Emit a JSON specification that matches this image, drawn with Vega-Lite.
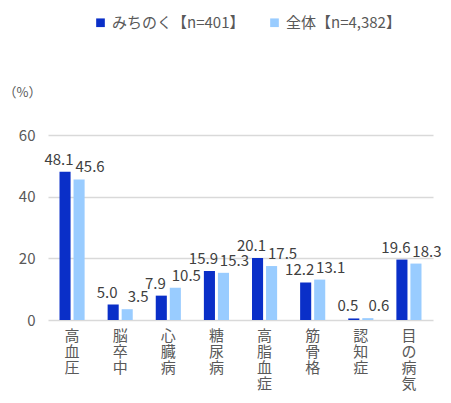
{
  "$schema": "https://vega.github.io/schema/vega-lite/v6.json",
  "autosize": {"type": "none"},
  "width": 385,
  "height": 185,
  "padding": {"left": 48, "top": 135, "right": 18, "bottom": 83},
  "background": "white",
  "config": {
    "font": "Noto Sans CJK JP",
    "view": {"stroke": null}
  },
  "data": {
    "values": [
      {"cat": "高血圧", "series": "みちのく【n=401】", "value": 48.1},
      {"cat": "高血圧", "series": "全体【n=4,382】", "value": 45.6},
      {"cat": "脳卒中", "series": "みちのく【n=401】", "value": 5.0},
      {"cat": "脳卒中", "series": "全体【n=4,382】", "value": 3.5},
      {"cat": "心臓病", "series": "みちのく【n=401】", "value": 7.9},
      {"cat": "心臓病", "series": "全体【n=4,382】", "value": 10.5},
      {"cat": "糖尿病", "series": "みちのく【n=401】", "value": 15.9},
      {"cat": "糖尿病", "series": "全体【n=4,382】", "value": 15.3},
      {"cat": "高脂血症", "series": "みちのく【n=401】", "value": 20.1},
      {"cat": "高脂血症", "series": "全体【n=4,382】", "value": 17.5},
      {"cat": "筋骨格", "series": "みちのく【n=401】", "value": 12.2},
      {"cat": "筋骨格", "series": "全体【n=4,382】", "value": 13.1},
      {"cat": "認知症", "series": "みちのく【n=401】", "value": 0.5},
      {"cat": "認知症", "series": "全体【n=4,382】", "value": 0.6},
      {"cat": "目の病気", "series": "みちのく【n=401】", "value": 19.6},
      {"cat": "目の病気", "series": "全体【n=4,382】", "value": 18.3}
    ]
  },
  "encoding": {
    "x": {
      "field": "cat", "type": "nominal", "sort": null,
      "scale": {"paddingInner": 0, "paddingOuter": 0},
      "axis": {
        "title": null, "labelAngle": 0, "domain": false, "ticks": false,
        "labelExpr": "split(datum.label, '')",
        "labelFontSize": 15, "labelLineHeight": 16, "labelColor": "#595959",
        "labelPadding": 8, "labelBaseline": "top"
      }
    },
    "xOffset": {
      "field": "series", "type": "nominal", "sort": null,
      "scale": {"paddingInner": 0.21, "paddingOuter": 0.82}
    },
    "y": {
      "field": "value", "type": "quantitative",
      "scale": {"domain": [0, 60]},
      "axis": {
        "values": [0, 20, 40, 60], "title": "（%）", "titleAngle": 0,
        "titleX": -45, "titleY": -43, "titleAlign": "left", "titleBaseline": "middle",
        "titleFontSize": 13, "titleFontWeight": "normal", "titleColor": "#595959",
        "domain": false, "ticks": false, "labelPadding": 13,
        "labelFontSize": 15, "labelColor": "#595959",
        "gridColor": "#d9d9d9", "gridWidth": 1.3
      }
    }
  },
  "layer": [
    {
      "mark": {"type": "bar"},
      "encoding": {
        "color": {
          "field": "series", "type": "nominal", "sort": null,
          "scale": {"range": ["#0A2FC8", "#99CCFF"]},
          "legend": {
            "title": null, "orient": "none", "direction": "horizontal",
            "legendX": 45, "legendY": -120,
            "symbolType": "square", "symbolSize": 75, "symbolStrokeWidth": 0,
            "labelFontSize": 15, "labelColor": "#595959", "columnPadding": 22,
            "labelOffset": 4
          }
        }
      }
    },
    {
      "transform": [{"filter": "datum.series === 'みちのく【n=401】'"}],
      "mark": {"type": "text", "baseline": "bottom", "dy": -4, "dx": -6, "fontSize": 15, "color": "#404040"},
      "encoding": {"text": {"field": "value", "type": "quantitative", "format": ".1f"}}
    },
    {
      "transform": [{"filter": "datum.series === '全体【n=4,382】'"}],
      "mark": {"type": "text", "baseline": "bottom", "dy": -4, "dx": 11, "fontSize": 15, "color": "#404040"},
      "encoding": {"text": {"field": "value", "type": "quantitative", "format": ".1f"}}
    }
  ]
}
